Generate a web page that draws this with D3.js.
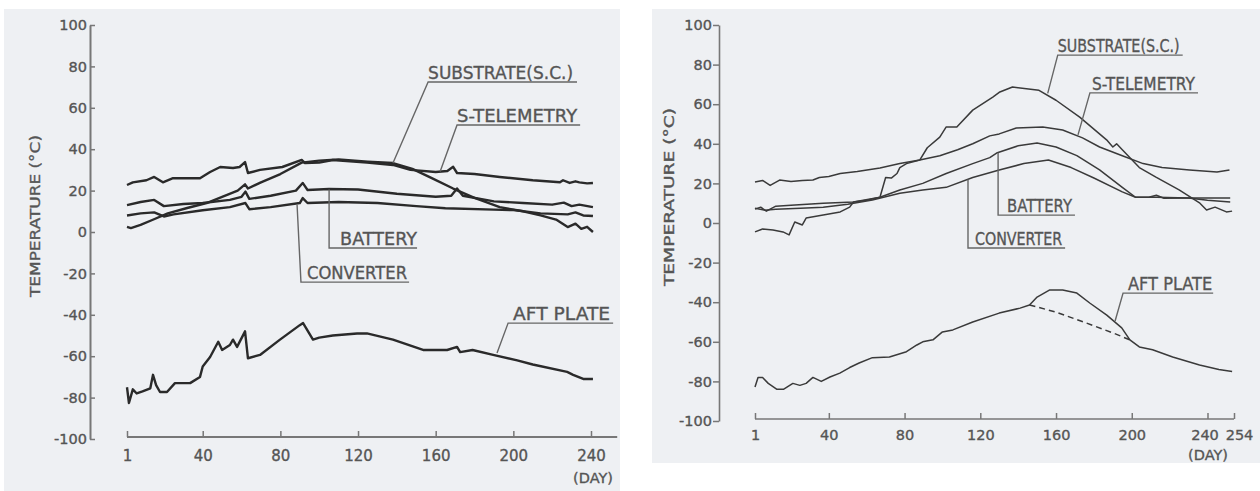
<!DOCTYPE html>
<html><head><meta charset="utf-8">
<script src="https://cdn.jsdelivr.net/npm/d3@7"></script>
<style>html,body{margin:0;padding:0;background:#fff;} svg{display:block}</style>
</head><body>
<svg id="c" width="1260" height="491"></svg>
<script>
// ---------------- DATA ----------------
const yTicks = [-100, -80, -60, -40, -20, 0, 20, 40, 60, 80, 100];
const leftXTicks = [1, 40, 80, 120, 160, 200, 240];
const rightXTicks = [1, 40, 80, 120, 160, 200, 240, 254];
const seriesNames = ["SUBSTRATE(S.C.)", "S-TELEMETRY", "BATTERY", "CONVERTER", "AFT PLATE"];
const yTitle = "TEMPERATURE (\u00B0C)";
const xUnit = "(DAY)";

// Left panel (day, temperature °C)
const leftSubstrate = [[1,2.5],[3,1.9],[8,3.4],[14,5.8],[22,9],[32,11.6],[42,14],[50,17],[58,20],[61.8,23],[63.3,21],[70,24],[80,28],[91,33.5],[100,34.5],[110,35],[125,34],[138,33.3],[148,30.5],[158,26],[169,21],[180,16.5],[193,12],[205,10],[214,8],[222,6],[228,2.4],[232,4],[235,1.5],[238,2.5],[241,0]];
const leftTelemetry = [[1,22.7],[4,24],[11,25],[15,26.6],[19.5,24],[24.7,26],[32,26],[38.6,26],[43.8,29],[49,31.4],[55.6,30.9],[59,31.4],[61.8,33.8],[63.3,28.5],[69.5,30],[81,31.4],[91,34.8],[92.7,33.3],[100,33.5],[107,34.8],[124.6,33.5],[138,32.4],[147,30],[160,29],[166,29.5],[169,31.5],[171,28.5],[180,28],[193,26.6],[210,25],[224,24],[225.6,25],[229,23.7],[232,24.5],[234,24],[238,23.5],[241,23.7]];
const leftBattery = [[1,13],[8,14.5],[15,15.5],[20,12.5],[30,13.5],[40,14],[54,15.5],[60,17],[62,19.5],[64,16],[75,17.5],[88,20],[91.5,23.7],[94,20.3],[105,20.8],[120,20.5],[140,18.5],[160,17],[168,17.5],[171,21],[174,17.5],[190,14.8],[205,14],[220,13.2],[226,14.2],[230,12.5],[234,13.2],[241,12]];
const leftConverter = [[1,8],[8,9],[15,9.5],[20,7.5],[25,8.5],[40,10.5],[54,12],[62,14],[64,11],[75,12],[90,14],[91.5,16.4],[94,14],[110,14.5],[130,14],[150,12.5],[165,11.5],[190,10.8],[200,10.6],[214,9],[228,8.5],[232,9.5],[236,8],[241,7.7]];
const leftAftPlate = [[1,-75],[2,-82.6],[4,-76],[6,-78],[9,-77],[13,-75.5],[14.4,-69],[16,-74],[18,-77.3],[21.6,-77.3],[25.7,-73],[33.5,-73],[38.6,-70],[40,-65],[43.8,-60.4],[48,-53],[50,-57],[54,-54.6],[55.6,-52],[57.7,-55.5],[61.8,-48],[63.3,-61],[69.5,-59.4],[79.8,-52],[90,-45],[91.7,-44],[96.8,-52],[100,-51],[107,-50],[119.5,-49],[124.6,-49],[138,-52],[153.5,-57],[165.9,-57],[171,-55.5],[172.6,-58],[179,-57],[189.6,-59.4],[202,-62],[210,-64],[227.7,-67.6],[230.8,-69],[236,-71],[241,-71]];

// Right panel (day, temperature °C)
const rightSubstrate = [[1,-4.5],[5,-3],[10.5,-3.5],[15.8,-4.5],[19,-6],[22,0.5],[26,-1],[28,2.5],[37,4],[46,5.6],[51,8],[53,10.6],[60,11.5],[67,13],[70,23],[73,22.7],[76,25],[77.5,28],[81,30],[88,31.8],[92,38],[98.6,43.4],[102,48.5],[107.6,48.5],[116,57],[126.6,63.6],[130,66],[137,68.7],[151,67],[160,62],[172.5,53.5],[186.7,42],[190,38.4],[192,40],[195,37],[204,28],[213,23],[225,16.7],[236,10],[239.5,6.6],[244,8],[250,5.6],[253,6]];
const rightTelemetry = [[1,20.7],[5,21.5],[9,19],[14,21.7],[20,21],[26,21.5],[31.6,21.7],[35,23],[40,23.5],[46,25],[55,26],[67,27.8],[77.5,30],[88,31.8],[98.6,34],[108,37],[116,40],[125,44],[130,45],[139,48],[153,48.5],[163.5,47],[174,43],[183,38.4],[195,34],[206,30],[216,28],[230.5,26.8],[245,25.8],[251.6,26.8]];
const rightBattery = [[1,7],[4,8],[7,6],[12,8.5],[20,9],[37,10],[53,10.6],[67,13],[77.5,16.7],[89.6,20],[102,25],[116,30],[125,33],[129,35.5],[140,39],[150,40.4],[160,38.4],[171,34],[183,26.8],[195,18],[202,13],[209,13],[213,14],[217,12.5],[230,12.6],[252,12.6]];
const rightConverter = [[1,7.5],[6,6.5],[12,7],[25,7.5],[37,8],[50,9.5],[63,11.6],[77.5,15],[89.6,16.7],[102,18],[116,23],[130,26.8],[143,30],[156,31.8],[168,28],[180,22.7],[195,15.7],[202,13],[213,13],[230,12.6],[240,11.5],[252,10.6]];
const rightAftPlate = [[1,-82.8],[2.6,-78],[5,-78],[8,-81],[12.6,-84],[16,-84],[21,-81],[24.7,-82],[28,-81],[31.6,-78],[36,-80],[40.6,-77.8],[45.8,-75.8],[51,-73],[56,-70.7],[63,-68],[72,-67.7],[81,-65],[86.5,-61.6],[89.6,-60],[95,-59],[100,-55],[105.5,-54],[116,-50],[130,-45.5],[141,-43],[146,-41.4],[150,-37.4],[156.7,-33.8],[163.5,-33.8],[171,-35.4],[177.8,-40.4],[186.8,-46.5],[194.7,-53],[199,-59],[204,-62.6],[211,-64],[221.6,-67.7],[235.8,-71.7],[246,-74],[253,-75]];
const rightAftPlateDashed = [[146,-41.4],[160,-45],[176,-50.5],[190,-55.5],[199,-59]];

// ---------------- LAYOUT ----------------
const svg = d3.select("#c");
const FONT = "'DejaVu Sans',sans-serif";
const TXT = "#555";

const panels = [
  {
    bg: [4, 9, 616, 482],
    x: d3.scaleLinear().domain([1, 240]).range([127, 591]),
    y: d3.scaleLinear().domain([-100, 100]).range([439, 25]),
    yAxisX: 90, xAxisY: 437, xAxisEnd: 253.5,
    xTicks: leftXTicks, yTickInward: true,
    xPad: 13, xFont: 15, yFont: 14.5,
    dayPos: [593, 483],
    title: {x: 35, y: 216, len: 162, size: 13.5},
    lineW: 2.4, lineC: "#2a2a2a", axisW: 2,
    series: [leftSubstrate, leftTelemetry, leftBattery, leftConverter, leftAftPlate],
    dashed: null,
    labelSize: 17.5,
    notes: [
      {pt:[138,33.3], lt:72.5, s:156.1, e:232.8, inset:0, tEnd:4},
      {pt:[162.3,29.2], lt:51.7, s:171, e:234.4, inset:0, tEnd:3},
      {pt:[105.1,20.5], lt:-7.7, s:105.1, e:150.4, inset:11, tEnd:0},
      {pt:[88.6,13.2], lt:-24.2, s:90.6, e:146.3, inset:6, tEnd:2},
      {pt:[191.6,-58.5], lt:-44, s:197.3, e:251.4, inset:5, tEnd:3}
    ]
  },
  {
    bg: [652, 9, 608, 454],
    x: d3.scaleLinear().domain([1, 254]).range([755, 1234]),
    y: d3.scaleLinear().domain([-100, 100]).range([421, 25]),
    yAxisX: 719, xAxisY: 419, xAxisEnd: 254,
    xTicks: rightXTicks, yTickInward: false,
    xPad: 11, xFont: 14.5, yFont: 14.5,
    dayPos: [1208, 460],
    title: {x: 669, y: 197, len: 178, size: 13.5},
    lineW: 1.5, lineC: "#3a3a3a", axisW: 1.6,
    series: [rightSubstrate, rightTelemetry, rightBattery, rightConverter, rightAftPlate],
    dashed: rightAftPlateDashed,
    labelSize: 17,
    notes: [
      {pt:[155.6,65.5], lt:84.8, s:160.9, e:226.9, inset:0, tEnd:3},
      {pt:[171.6,44.5], lt:65.7, s:177.9, e:235, inset:2, tEnd:3},
      {pt:[129.4,35.5], lt:4.0, s:129.4, e:170, inset:9, tEnd:3},
      {pt:[113.5,22], lt:-12.6, s:113.5, e:164.8, inset:7, tEnd:3},
      {pt:[191.2,-49.5], lt:-35.4, s:195.4, e:243, inset:5, tEnd:1}
    ]
  }
];

function styleText(sel, size) {
  sel.attr("fill", TXT).attr("stroke", TXT).attr("stroke-width", 0.35)
     .style("font-family", FONT).style("font-size", size + "px");
  return sel;
}

panels.forEach((p, pi) => {
  const g = svg.append("g");
  g.append("rect").attr("x", p.bg[0]).attr("y", p.bg[1]).attr("width", p.bg[2]).attr("height", p.bg[3])
    .attr("fill", "#eef0f3");

  // Y axis
  const yAx = p.yTickInward
    ? d3.axisLeft(p.y).tickValues(yTicks).tickSize(-5).tickSizeOuter(0).tickPadding(3)
    : d3.axisLeft(p.y).tickValues(yTicks).tickSize(6).tickSizeOuter(0).tickPadding(1);
  const ya = g.append("g").attr("transform", `translate(${p.yAxisX},0)`).call(yAx);
  ya.select(".domain").attr("stroke", "#777").attr("stroke-width", p.axisW);
  ya.selectAll(".tick line").attr("stroke", "#777").attr("stroke-width", 1.5);
  styleText(ya.selectAll("text"), p.yFont).text(d => d < 0 ? "-" + Math.abs(d) : d);

  // X axis
  const xAx = d3.axisBottom(p.x).tickValues(p.xTicks).tickSize(-6).tickSizeOuter(0).tickPadding(p.xPad);
  const xa = g.append("g").attr("transform", `translate(0,${p.xAxisY})`).call(xAx);
  xa.select(".domain").remove();
  xa.append("line").attr("x1", p.x(1)).attr("x2", p.x(p.xAxisEnd)).attr("stroke", "#777").attr("stroke-width", p.axisW);
  xa.selectAll(".tick line").attr("stroke", "#777").attr("stroke-width", 1.5);
  styleText(xa.selectAll("text"), p.xFont)
    .attr("dx", d => (pi === 1 && d === 254) ? 5 : (pi === 1 && d === 240) ? -3 : 0);

  styleText(g.append("text").attr("x", p.dayPos[0]).attr("y", p.dayPos[1]).attr("text-anchor", "middle"), 14.5)
    .text(xUnit);

  styleText(g.append("text").attr("transform", `translate(${p.title.x},${p.title.y}) rotate(-90)`)
    .attr("text-anchor", "middle").attr("dy", "0.35em")
    .attr("textLength", p.title.len).attr("lengthAdjust", "spacingAndGlyphs"), p.title.size)
    .text(yTitle);

  // Series
  const line = d3.line().x(d => p.x(d[0])).y(d => p.y(d[1]));
  p.series.forEach(s => {
    g.append("path").datum(s).attr("d", line).attr("fill", "none")
      .attr("stroke", p.lineC).attr("stroke-width", p.lineW).attr("stroke-linejoin", "round");
  });
  if (p.dashed) {
    g.append("path").datum(p.dashed).attr("d", line).attr("fill", "none")
      .attr("stroke", p.lineC).attr("stroke-width", p.lineW).attr("stroke-dasharray", "6,4");
  }

  // Annotations
  p.notes.forEach((n, i) => {
    const px = p.x(n.pt[0]), py = p.y(n.pt[1]);
    const sx = p.x(n.s), ex = p.x(n.e), ly = p.y(n.lt);
    g.append("path").attr("d", `M${px},${py}L${sx},${ly}L${ex},${ly}`)
      .attr("fill", "none").attr("stroke", "#666").attr("stroke-width", 1.4);
    const tx = sx + n.inset;
    styleText(g.append("text").attr("x", tx).attr("y", ly - 3)
      .attr("textLength", ex - n.tEnd - tx).attr("lengthAdjust", "spacingAndGlyphs"), p.labelSize)
      .text(seriesNames[i]);
  });
});
</script>
</body></html>
